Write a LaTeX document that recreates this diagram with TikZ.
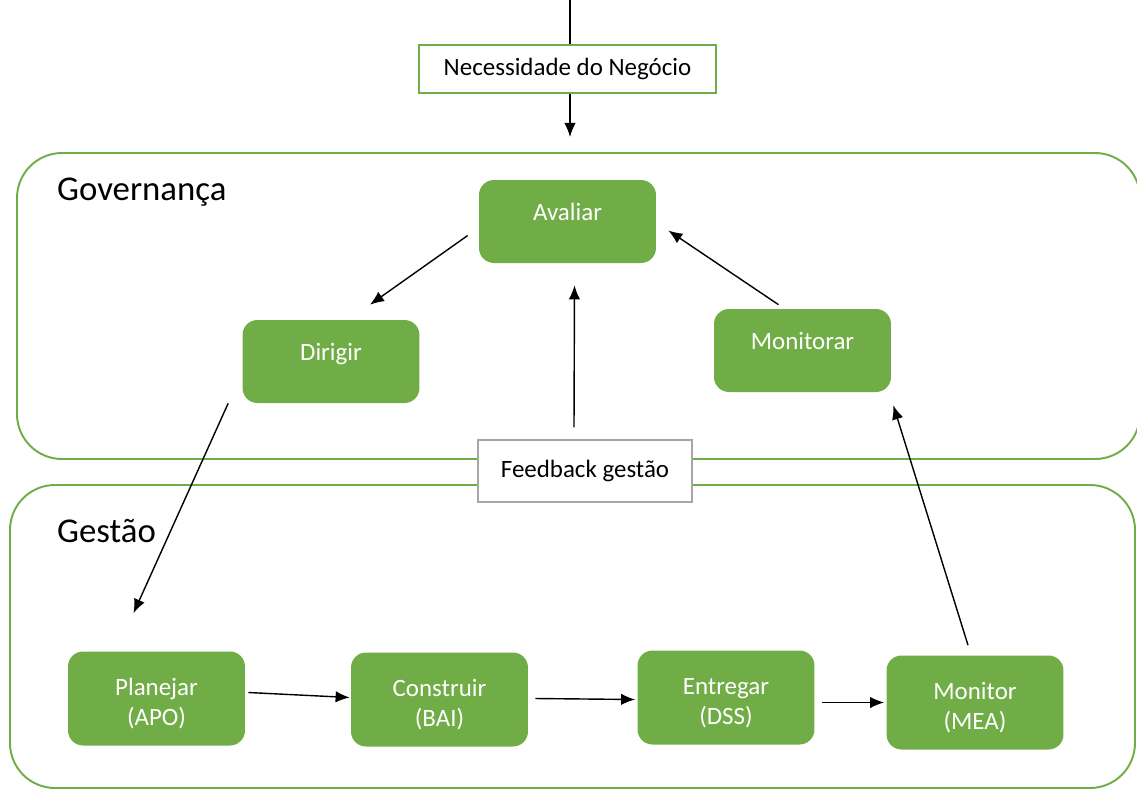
\documentclass[tikz,border=0pt]{standalone}
\usepackage{fontspec}
\setmainfont{Carlito}
\usetikzlibrary{arrows.meta}
\definecolor{cobitgreen}{HTML}{70AD47}
\definecolor{fbgray}{HTML}{A6A6A6}
\begin{document}
\begin{tikzpicture}[x=0.02cm,y=-0.02cm,
	area/.style={draw=cobitgreen,line width=1.1pt,rounded corners=0.9cm},
	areaname/.style={anchor=west,font=\fontsize{19.8}{23}\selectfont},
	proc/.style={fill=cobitgreen,rounded corners=0.3cm,text=white,align=center,
		minimum width=3.54cm,minimum height=1.66cm,inner sep=0pt,
		font=\fontsize{14.2}{17}\selectfont},
	oneline/.style={text depth=0.4cm},
	twoline/.style={minimum height=1.88cm,text height=1.15cm},
	plainbox/.style={draw,fill=white,line width=0.8pt,inner sep=0pt,
		font=\fontsize{14.2}{17}\selectfont},
	arr/.style={-{Latex[length=8pt,width=6.5pt]},line width=0.8pt}
]
	\useasboundingbox (0,0) rectangle (1137,789);

	% the two areas
	\draw[area] (17,153) rectangle (1140,459);
	\draw[area] (10,485) rectangle (1135,788);
	\node[areaname] at (51,192) (gov) {Governança};
	\node[areaname] at (51,531) (ges) {Gestão};

	% input
	\node[plainbox,draw=cobitgreen,minimum width=5.94cm,minimum height=0.96cm] at (567.5,69) (nec) {Necessidade do Negócio};
	\coordinate (topin) at (570,0);
	\coordinate (govin) at (570,137);
	\draw[line width=0.8pt] (topin) -- (topin |- nec.north);
	\draw[arr] (nec.south -| govin) -- (govin);

	% governance
	\node[proc,oneline] at (567.5,221.5) (aval) {Avaliar};
	\node[proc,oneline] at (331,361.5) (dir) {Dirigir};
	\node[proc,oneline] at (802.5,350.5) (mon) {Monitorar};
	\node[plainbox,draw=fbgray,minimum width=4.28cm,minimum height=1.24cm] at (585,471) (fb) {Feedback gestão};

	% management
	\node[proc,twoline] at (156.5,698.5) (plan) {Planejar\\(APO)};
	\node[proc,twoline] at (439.5,699.5) (cons) {Construir\\(BAI)};
	\node[proc,twoline] at (726,697.5) (ent) {Entregar\\(DSS)};
	\node[proc,twoline] at (975,702.5) (mea) {Monitor\\(MEA)};

	\draw[arr] ([shift={(-11,14)}]aval.west) -- ([shift={(39,-15)}]dir.north);
	\draw[arr] ([shift={(-24,-4)}]mon.north) -- ([shift={(12,9)}]aval.east);
	\draw[arr] ([shift={(-11,-12)}]fb.north) -- ([shift={(7,22)}]aval.south);
	\draw[arr] ([shift={(-14,0)}]dir.south west) -- ([shift={(-23,-38)}]plan.north);
	\draw[arr] ([shift={(-7,-10)}]mea.north) -- ([shift={(2,13)}]mon.south east);

	\draw[arr] ([shift={(3,-6)}]plan.east) -- ([shift={(-1,-2)}]cons.west);
	\draw[arr] ([shift={(7,-1)}]cons.east) -- ([shift={(-2,2)}]ent.west);
	\draw[arr] ([shift={(7,5)}]ent.east) -- ([shift={(-2,0)}]mea.west);

\end{tikzpicture}
\end{document}
